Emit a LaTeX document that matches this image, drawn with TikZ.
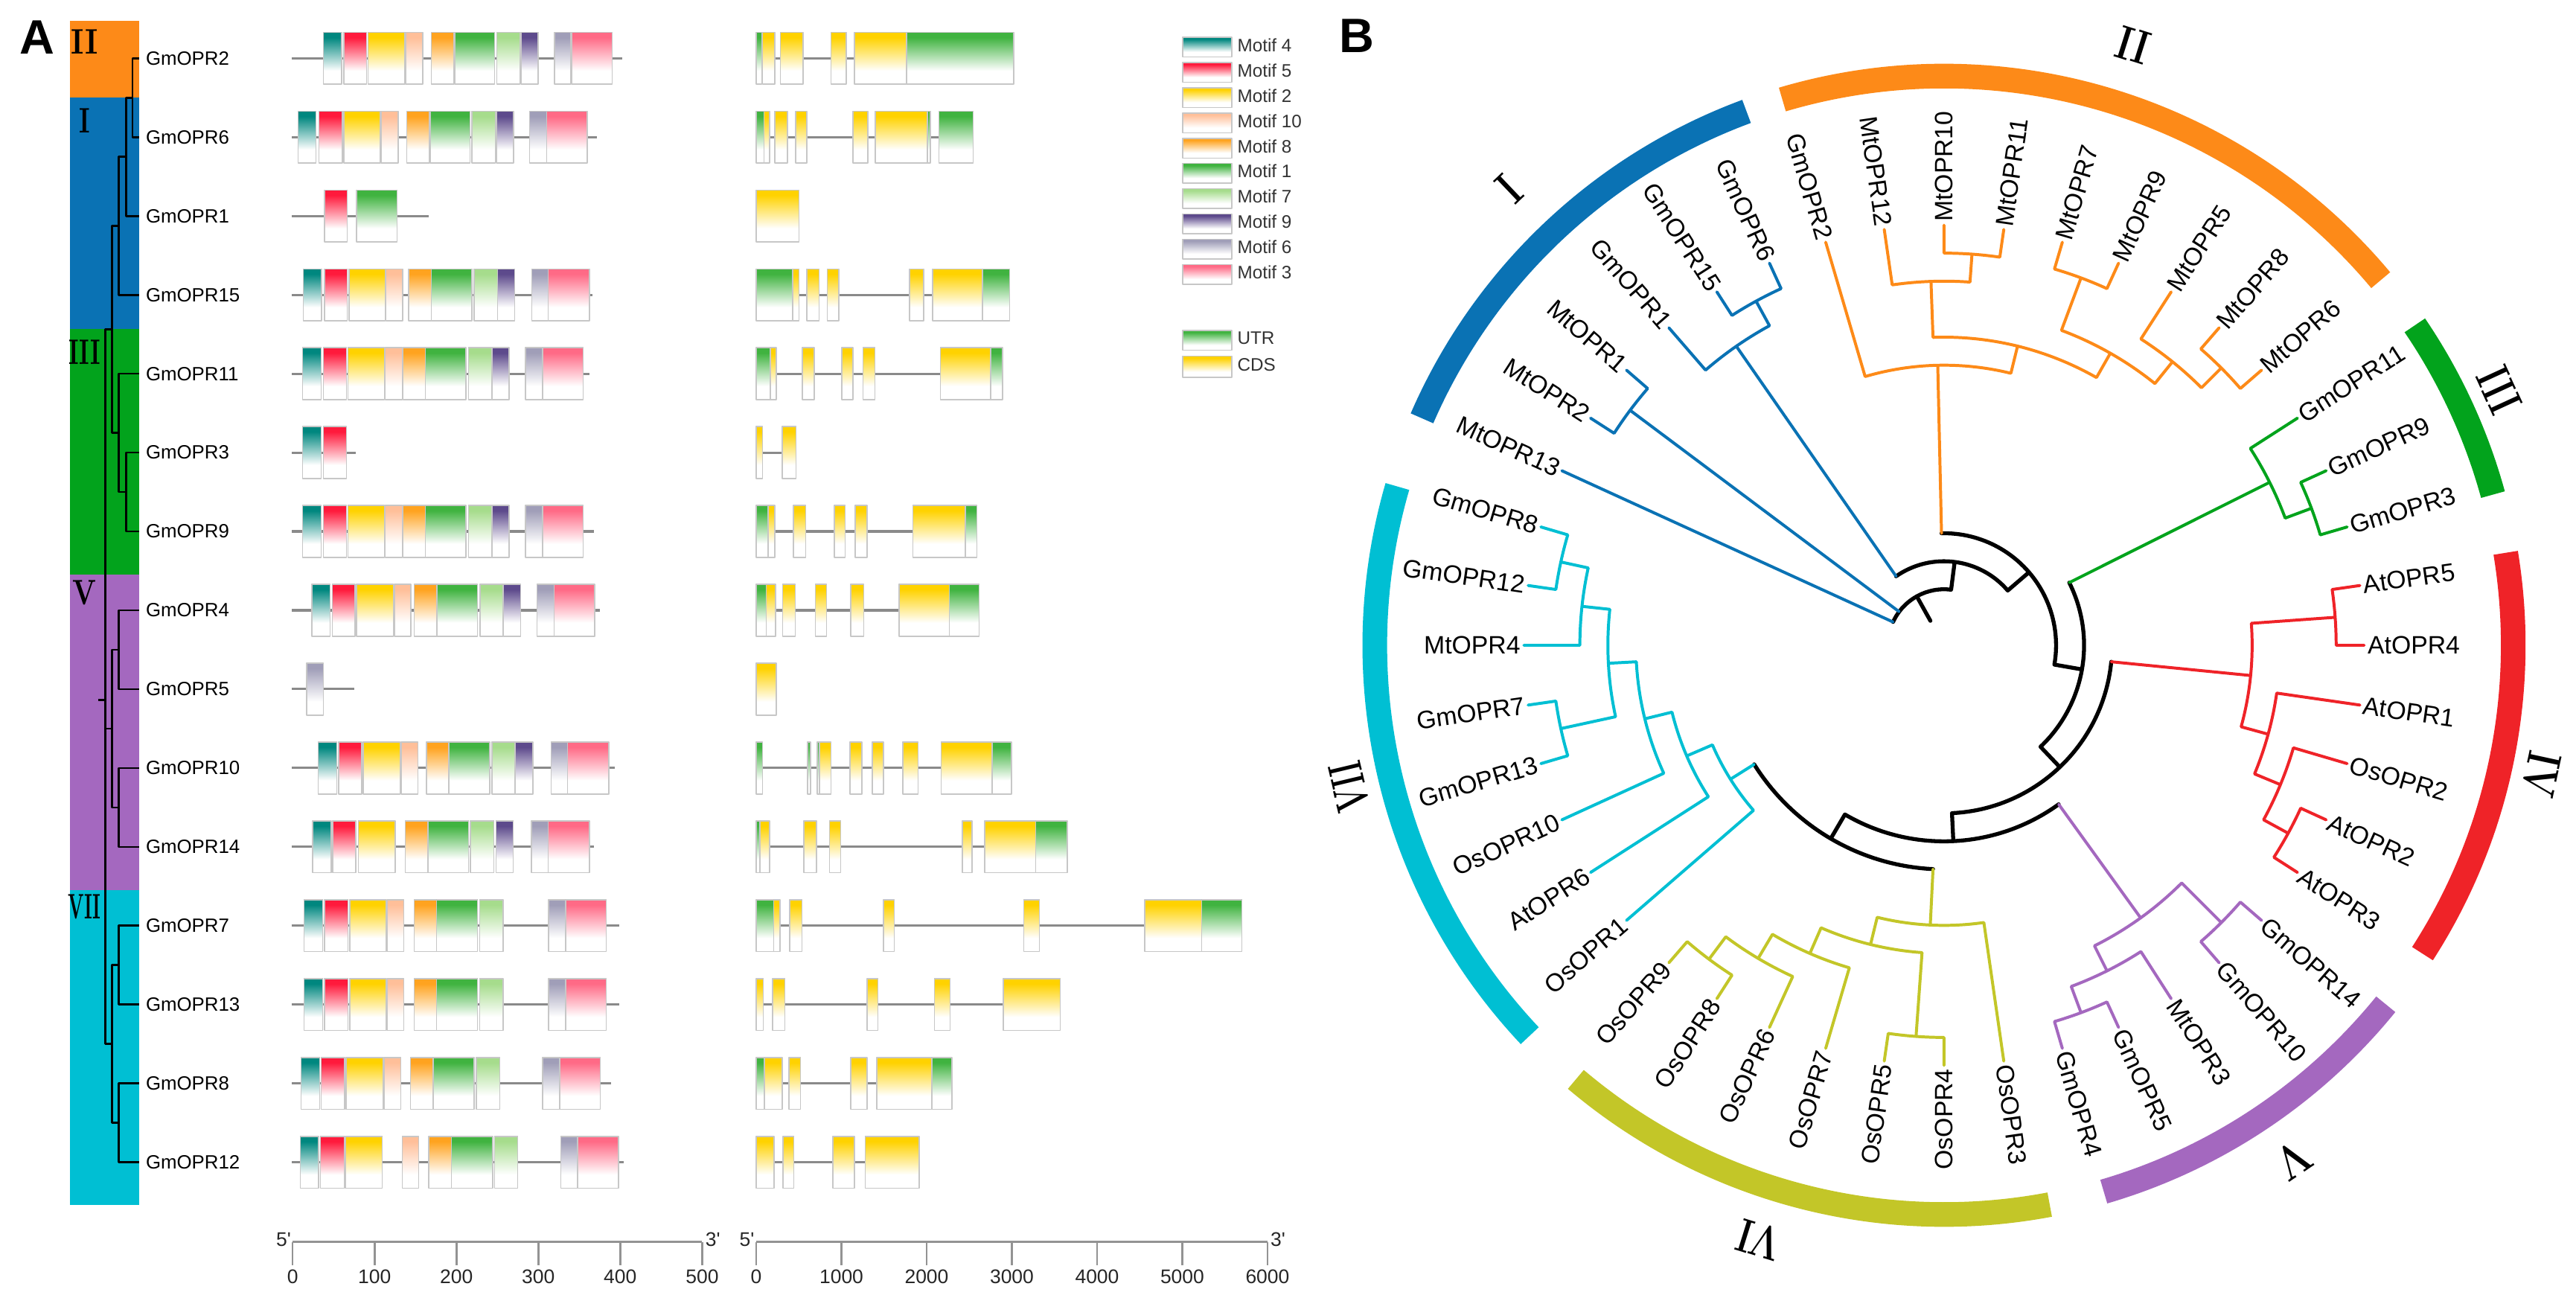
\documentclass[tikz,border=0pt]{standalone}
\usepackage{fontspec}
\newfontfamily\arial{Liberation Sans}
\definecolor{cI}{HTML}{0A72B4}
\definecolor{cII}{HTML}{FD8A18}
\definecolor{cIII}{HTML}{02A31C}
\definecolor{cIV}{HTML}{EF2328}
\definecolor{cV}{HTML}{A468BF}
\definecolor{cVI}{HTML}{C3C628}
\definecolor{cVII}{HTML}{00BFD3}
\definecolor{m4}{HTML}{00877F}
\definecolor{m5}{HTML}{FF1A3C}
\definecolor{m2}{HTML}{FFD200}
\definecolor{m10}{HTML}{FFBF99}
\definecolor{m8}{HTML}{FFA31F}
\definecolor{m1}{HTML}{40B340}
\definecolor{m7}{HTML}{A6DC8C}
\definecolor{m9}{HTML}{5D4A8C}
\definecolor{m6}{HTML}{A09EB8}
\definecolor{m3}{HTML}{FF6A86}
\colorlet{utr}{m1}
\colorlet{cds}{m2}
\definecolor{gline}{HTML}{8A8A8A}
\colorlet{fadecol}{white}
\pgfdeclareverticalshading[fadecol]{fade}{100bp}{color(0bp)=(white); color(38bp)=(white); color(70bp)=(fadecol); color(100bp)=(fadecol)}

\begin{document}
\begin{tikzpicture}[x=0.5pt, y=-0.5pt, line join=round,
  gene/.style={font=\arial\fontsize{5.85}{7}\selectfont, anchor=west, inner sep=0pt},
  leg/.style={font=\arial\fontsize{5.5}{6.5}\selectfont, text=black!80, anchor=west, inner sep=0pt},
  tick/.style={font=\arial\fontsize{6}{7}\selectfont, text=black!85, inner sep=0pt},
  leaf/.style={font=\arial\fontsize{7.65}{9}\selectfont, inner sep=0pt},
  panel/.style={font=\arial\bfseries\fontsize{14.7}{16}\selectfont, inner sep=0pt, anchor=base west},
  romA/.style={font=\bfseries\fontsize{10.8}{12}\selectfont, inner sep=0pt},
  romB/.style={font=\bfseries\fontsize{14.5}{16}\selectfont, inner sep=0pt},
  treeA/.style={line width=0.6pt},
  bb/.style={line width=1.2pt, line cap=round},
  cl/.style={draw=#1, line width=0.9pt, line cap=round},
  ring/.style={draw=#1, line width=7.5pt},
  gl/.style={draw=gline, line width=0.7pt},
  axis/.style={draw=gray!85, line width=0.6pt},
  mot/.style={/utils/exec={\colorlet{fadecol}{#1}}, shading=fade, draw=black!22, line width=0.35pt}]
\def\motifs#1#2#3{
  \draw[gl] (177.8,#1) -- (#2,#1);
  \foreach \a/\b/\c in {#3} {\shadedraw[mot=\c] (\a,#1-15.8) rectangle (\b,#1+15.8);}
}
\def\exons#1#2#3{
  \draw[gl] (460.3,#1) -- (#2,#1);
  \foreach \a/\b/\c in {#3} {\shadedraw[mot=\c] (\a,#1-15.8) rectangle (\b,#1+15.8);}
}
\fill[white] (0,0) rectangle (1568,790);
\useasboundingbox (0,0) rectangle (1568,790);

\node[panel] (pA) at (11.7,33) {A};
\node[panel] (pB) at (815,32) {B};

\fill[cII] (42.4,12.5) rectangle (84.5,59.3);
\fill[cI] (42.4,59.3) rectangle (84.5,200.2);
\fill[cIII] (42.4,200.2) rectangle (84.5,349.7);
\fill[cV] (42.4,349.7) rectangle (84.5,542);
\fill[cVII] (42.4,542) rectangle (84.5,733.7);
\foreach \y/\sx/\txt in {25.5/0.83/II, 73.3/0.7/I, 214.5/0.65/III, 361/0.77/V, 552/0.52/VII}
  \node[romA] (ra-\txt) at (51.5,\y) {\scalebox{\sx}[1]{\txt}};

\draw[treeA] (84.5,35.5) -| (80.6,83.5) -- (84.5,83.5)
  (80.6,59.5) -| (76.7,131.5) -- (84.5,131.5)
  (76.7,95.5) -| (72.3,179.5) -- (84.5,179.5)
  (84.5,227.5) -| (72.3,299.5) -- (76.7,299.5)
  (84.5,275.5) -| (76.7,323.5) -- (84.5,323.5)
  (72.3,137.5) -| (68.1,263.5) -- (72.3,263.5)
  (84.5,371.5) -| (72.3,419.5) -- (84.5,419.5)
  (84.5,467.5) -| (72.3,515.5) -- (84.5,515.5)
  (72.3,395.5) -| (68.1,491.5) -- (72.3,491.5)
  (84.5,563.5) -| (72.3,611.5) -- (84.5,611.5)
  (84.5,659.5) -| (72.3,707.5) -- (84.5,707.5)
  (72.3,587.5) -| (68.1,683.5) -- (72.3,683.5)
  (68.1,200.5) -| (64.2,635.5) -- (68.1,635.5)
  (64.2,443.5) -- (68.1,443.5) (59.8,426) -- (64.2,426);

\foreach \n [count=\i from 0] in {GmOPR2,GmOPR6,GmOPR1,GmOPR15,GmOPR11,GmOPR3,GmOPR9,GmOPR4,GmOPR5,GmOPR10,GmOPR14,GmOPR7,GmOPR13,GmOPR8,GmOPR12}
  \node[gene] (a-\n) at (88.4,35.5+48*\i) {\n};

\motifs{35.5}{378.8}{196.8/208.0/m4, 209.3/223.1/m5, 224.1/246.5/m2, 247.0/257.4/m10, 262.6/276.4/m8, 276.9/301.1/m1, 302.4/316.4/m7, 317.2/327.6/m9, 337.5/347.6/m6, 347.9/372.6/m3}
\motifs{83.5}{363.2}{181.5/192.4/m4, 194.2/208.3/m5, 209.3/231.4/m2, 231.9/242.3/m10, 247.5/261.3/m8, 261.8/286.0/m1, 287.3/301.6/m7, 302.1/312.5/m9, 322.4/332.8/m6, 332.8/357.5/m3}
\motifs{131.5}{261.0}{197.6/211.4/m5, 217.1/241.8/m1}
\motifs{179.5}{360.6}{184.6/195.8/m4, 197.6/211.4/m5, 212.4/234.5/m2, 235.0/245.2/m10, 248.8/262.6/m8, 262.6/287.3/m1, 288.6/302.9/m7, 302.9/313.3/m9, 323.7/333.6/m6, 333.6/358.8/m3}
\motifs{227.5}{358.8}{184.1/195.5/m4, 196.8/210.9/m5, 211.9/234.0/m2, 234.5/244.9/m10, 245.4/259.0/m8, 259.0/283.7/m1, 285.2/299.3/m7, 299.5/309.9/m9, 319.8/330.2/m6, 330.2/354.9/m3}
\motifs{275.5}{216.6}{184.1/195.5/m4, 196.8/210.9/m5}
\motifs{323.5}{361.4}{184.1/195.5/m4, 196.8/210.9/m5, 211.9/234.0/m2, 234.5/244.9/m10, 245.4/259.0/m8, 259.0/283.7/m1, 285.2/299.3/m7, 299.5/309.9/m9, 319.8/330.2/m6, 330.2/354.9/m3}
\motifs{371.5}{365.3}{189.8/201.0/m4, 202.3/216.1/m5, 217.1/239.5/m2, 240.0/250.1/m10, 252.2/266.0/m8, 266.0/290.7/m1, 292.2/306.3/m7, 306.5/316.9/m9, 326.8/337.2/m6, 337.2/361.9/m3}
\motifs{419.5}{215.8}{186.7/196.8/m6}
\motifs{467.5}{374.4}{193.7/204.9/m4, 206.2/220.2/m5, 221.0/243.6/m2, 244.1/254.3/m10, 259.5/273.3/m8, 273.3/298.0/m1, 299.5/313.6/m7, 313.8/324.5/m9, 335.4/345.5/m6, 345.5/370.5/m3}
\motifs{515.5}{361.4}{190.3/201.5/m4, 202.5/216.6/m5, 218.1/240.5/m2, 246.7/260.5/m8, 260.5/285.2/m1, 286.3/300.6/m7, 301.9/312.3/m9, 323.4/333.6/m6, 333.6/358.8/m3}
\motifs{563.5}{377.0}{185.1/196.3/m4, 197.6/211.9/m5, 212.9/235.0/m2, 235.6/245.7/m10, 252.2/265.7/m8, 265.7/290.7/m1, 292.0/306.3/m7, 333.8/344.2/m6, 344.2/368.9/m3}
\motifs{611.5}{377.0}{185.1/196.3/m4, 197.6/211.9/m5, 212.9/235.0/m2, 235.6/245.7/m10, 252.2/265.7/m8, 265.7/290.7/m1, 292.0/306.3/m7, 333.8/344.2/m6, 344.2/368.9/m3}
\motifs{659.5}{371.8}{183.3/194.5/m4, 195.5/209.8/m5, 210.6/233.2/m2, 233.7/243.9/m10, 249.9/263.6/m8, 263.6/288.6/m1, 289.9/304.2/m7, 330.2/340.6/m6, 340.6/365.3/m3}
\motifs{707.5}{379.6}{182.8/194.0/m4, 195.0/209.6/m5, 210.3/232.7/m2, 244.9/254.8/m10, 261.0/274.8/m8, 274.8/299.8/m1, 301.1/315.1/m7, 341.4/351.5/m6, 351.5/376.5/m3}

\exons{35.5}{617.1}{460.3/463.7/utr, 464.2/471.5/cds, 475.1/488.9/cds, 505.8/515.2/cds, 520.1/551.8/cds, 551.8/617.1/utr}
\exons{83.5}{592.4}{460.3/465.0/utr, 465.0/468.4/cds, 471.5/479.3/cds, 484.2/491.0/cds, 519.1/528.2/cds, 532.9/564.6/cds, 564.6/566.4/utr, 571.6/592.4/utr}
\exons{131.5}{486.3}{460.3/486.3/cds}
\exons{179.5}{614.5}{460.3/482.4/utr, 482.4/486.3/cds, 491.0/498.5/cds, 503.5/510.5/cds, 553.6/562.2/cds, 567.7/597.9/cds, 597.9/614.5/utr}
\exons{227.5}{610.3}{460.3/468.9/utr, 468.9/472.5/cds, 488.4/495.7/cds, 512.3/519.3/cds, 525.3/532.6/cds, 572.4/603.1/cds, 603.1/610.3/utr}
\exons{275.5}{484.5}{460.3/464.2/cds, 476.2/484.5/cds}
\exons{323.5}{594.7}{460.3/467.6/utr, 467.6/471.5/cds, 482.9/490.5/cds, 507.9/514.4/cds, 520.6/527.9/cds, 555.7/587.5/cds, 587.5/594.7/utr}
\exons{371.5}{596.0}{460.3/466.5/utr, 466.5/472.0/cds, 476.4/484.0/cds, 496.4/503.2/cds, 517.8/525.8/cds, 547.2/577.8/cds, 577.8/596.0/utr}
\exons{419.5}{472.5}{460.3/472.5/cds}
\exons{467.5}{615.8}{460.3/464.2/utr, 491.5/493.3/utr, 497.5/498.8/utr, 498.8/505.8/cds, 517.3/524.5/cds, 531.0/537.8/cds, 549.5/558.9/cds, 572.9/603.8/cds, 603.8/615.8/utr}
\exons{515.5}{650.1}{460.3/462.6/utr, 462.6/468.4/cds, 489.4/497.0/cds, 505.0/511.8/cds, 585.9/591.6/cds, 599.4/630.4/cds, 630.4/649.6/utr}
\exons{563.5}{756.0}{460.3/471.0/utr, 471.0/474.9/cds, 480.6/488.1/cds, 537.8/544.3/cds, 623.1/632.7/cds, 696.9/731.5/cds, 731.5/756.0/utr}
\exons{611.5}{645.4}{460.3/464.5/cds, 470.2/477.7/cds, 527.9/534.4/cds, 568.7/578.4/cds, 610.6/645.4/cds}
\exons{659.5}{579.4}{460.3/465.2/utr, 465.2/476.2/cds, 480.3/487.3/cds, 517.8/527.7/cds, 533.6/567.2/cds, 567.2/579.4/utr}
\exons{707.5}{559.6}{460.3/471.2/cds, 476.7/483.2/cds, 506.9/520.1/cds, 526.6/559.6/cds}

\foreach \c/\txt [count=\i from 0] in {m4/Motif 4, m5/Motif 5, m2/Motif 2, m10/Motif 10, m8/Motif 8, m1/Motif 1, m7/Motif 7, m9/Motif 9, m6/Motif 6, m3/Motif 3} {
  \shadedraw[mot=\c] (720,22.7+15.37*\i) rectangle (749.7,34.7+15.37*\i);
  \node[leg] (l-\c) at (752.8,27.5+15.37*\i) {\txt};
}
\shadedraw[mot=utr] (720,201.1) rectangle (749.7,213.2);
\node[leg] (l-utr) at (752.8,206) {UTR};
\shadedraw[mot=cds] (720,216.7) rectangle (749.7,229.7);
\node[leg] (l-cds) at (752.8,222) {CDS};

\draw[axis] (178.1,756) -- (427.4,756);
\foreach \v [count=\i from 0] in {0,100,200,300,400,500} {
  \draw[axis] (178.1+49.86*\i,756) -- ++(0,14);
  \node[tick, anchor=north] (ta-\i) at (178.1+49.86*\i,772.5) {\v};
}
\node[tick, anchor=south east] (ta-5p) at (177.5,759) {5\textquotesingle};
\node[tick, anchor=south west] (ta-3p) at (429,759) {3\textquotesingle};
\draw[axis] (460.3,756) -- (771.5,756);
\foreach \v [count=\i from 0] in {0,1000,2000,3000,4000,5000,6000} {
  \draw[axis] (460.3+51.87*\i,756) -- ++(0,14);
  \node[tick, anchor=north] (tb-\i) at (460.3+51.87*\i,772.5) {\v};
}
\node[tick, anchor=south east] (tb-5p) at (459.5,759) {5\textquotesingle};
\node[tick, anchor=south west] (tb-3p) at (773,759) {3\textquotesingle};

\begin{scope}[shift={(1183.3,392.8)}, y=0.5pt]
\def\rs{17.05}
\def\br#1#2#3{(#1:{#2*\rs}) -- (#1:{#3*\rs})}
\def\ar#1#2#3{(#2:{#1*\rs}) arc[start angle=#2, end angle=#3, radius={#1*\rs}]}
\def\band#1#2{(#1:346.5) arc[start angle=#1, end angle=#2, radius=346.5]}

\draw[ring=cI] \band{110.3}{156.5};
\draw[ring=cII] \band{39.9}{106.5};
\draw[ring=cIII] \band{15.35}{34.2};
\draw[ring=cIV] \band{-32.8}{9.35};
\draw[ring=cV] \band{-73.7}{-39.1};
\draw[ring=cVI] \band{-130.3}{-79.3};
\draw[ring=cVII] \band{-196.2}{-136.7};

\foreach \a/\rr/\sx/\txt in {133.6/384/0.75/I, 72.5/383/0.78/II, 24.7/372/0.72/III, -12.2/372/0.75/IV, -55.9/378.6/0.8/V, -107.3/379/0.72/VI, 193.4/372/0.6/VII}
  \node[romB, rotate=\a-90] (rb-\txt) at (\a:\rr) {\scalebox{\sx}[1]{\txt}};

\draw[bb] \ar{2}{155.45}{82.72} \br{119.09}{2}{1} \br{82.72}{2}{3}
  \ar{3}{124.78}{40.67} \br{40.67}{3}{4}
  \ar{4}{91.28}{-9.93} \br{-9.93}{4}{5}
  \ar{5}{26.59}{-46.45} \br{-46.45}{5}{6}
  \ar{6}{-5.63}{-87.28} \br{-87.28}{6}{7}
  \ar{7}{-54.2}{-120.36} \br{-120.36}{7}{8}
  \ar{8}{-92.81}{-147.91};

\draw[cl=cI] \br{155.45}{2}{15} \br{143.18}{2}{14} \ar{14}{139.09}{147.27} \br{139.09}{14}{15} \br{147.27}{14}{15}
  \br{124.78}{3}{13} \ar{13}{118.64}{130.91} \br{130.91}{13}{15} \br{118.64}{13}{14}
  \ar{14}{114.55}{122.73} \br{114.55}{14}{15} \br{122.73}{14}{15};

\draw[cl=cII] \br{91.28}{4}{10} \ar{10}{106.36}{76.19} \br{106.36}{10}{15} \br{76.19}{10}{11}
  \ar{11}{92.05}{60.34} \br{92.05}{11}{13} \ar{13}{98.18}{85.91} \br{98.18}{13}{15} \br{85.91}{13}{14}
  \ar{14}{90}{81.82} \br{90}{14}{15} \br{81.82}{14}{15}
  \br{60.34}{11}{12} \ar{12}{69.55}{51.14} \br{69.55}{12}{14} \ar{14}{73.64}{65.45} \br{73.64}{14}{15} \br{65.45}{14}{15}
  \br{51.14}{12}{13} \ar{13}{57.27}{45} \br{57.27}{13}{15} \br{45}{13}{14}
  \ar{14}{49.09}{40.91} \br{49.09}{14}{15} \br{40.91}{14}{15};

\draw[cl=cIII] \br{26.59}{5}{13} \ar{13}{32.73}{20.45} \br{32.73}{13}{15} \br{20.45}{13}{14}
  \ar{14}{24.55}{16.36} \br{24.55}{14}{15} \br{16.36}{14}{15};

\draw[cl=cIV] \br{-5.63}{6}{11} \ar{11}{4.09}{-15.34} \br{4.09}{11}{14} \ar{14}{8.18}{0} \br{8.18}{14}{15} \br{0}{14}{15}
  \br{-15.34}{11}{12} \ar{12}{-8.18}{-22.5} \br{-8.18}{12}{15} \br{-22.5}{12}{13}
  \ar{13}{-16.36}{-28.64} \br{-16.36}{13}{15} \br{-28.64}{13}{14}
  \ar{14}{-24.55}{-32.73} \br{-24.55}{14}{15} \br{-32.73}{14}{15};

\draw[cl=cV] \br{-54.2}{7}{12} \ar{12}{-45}{-63.41} \br{-45}{12}{14} \ar{14}{-40.91}{-49.09} \br{-40.91}{14}{15} \br{-49.09}{14}{15}
  \br{-63.41}{12}{13} \ar{13}{-57.27}{-69.55} \br{-57.27}{13}{15} \br{-69.55}{13}{14}
  \ar{14}{-65.45}{-73.64} \br{-65.45}{14}{15} \br{-73.64}{14}{15};

\draw[cl=cVI] \br{-92.81}{8}{10} \ar{10}{-81.82}{-103.8} \br{-81.82}{10}{15} \br{-103.8}{10}{11}
  \ar{11}{-94.09}{-113.52} \br{-94.09}{11}{14} \ar{14}{-90}{-98.18} \br{-90}{14}{15} \br{-98.18}{14}{15}
  \br{-113.52}{11}{12} \ar{12}{-106.36}{-120.69} \br{-106.36}{12}{15} \br{-120.69}{12}{13}
  \ar{13}{-114.55}{-126.82} \br{-114.55}{13}{15} \br{-126.82}{13}{14}
  \ar{14}{-122.73}{-130.91} \br{-122.73}{14}{15} \br{-130.91}{14}{15};

\draw[cl=cVII] \br{-147.91}{8}{9} \ar{9}{-139.09}{-156.73} \br{-139.09}{9}{15} \br{-156.73}{9}{10}
  \ar{10}{-147.27}{-166.19} \br{-147.27}{10}{15} \br{-166.19}{10}{11}
  \ar{11}{-155.45}{-176.93} \br{-155.45}{11}{15} \br{-176.93}{11}{12}
  \ar{12}{-167.73}{-186.14} \br{-167.73}{12}{14} \ar{14}{-163.64}{-171.82} \br{-163.64}{14}{15} \br{-171.82}{14}{15}
  \br{-186.14}{12}{13} \ar{13}{-180}{-192.27} \br{-180}{13}{15} \br{-192.27}{13}{14}
  \ar{14}{-188.18}{-196.36} \br{-188.18}{14}{15} \br{-196.36}{14}{15};

\foreach \n [count=\k from 8] in {MtOPR10,MtOPR11,MtOPR7,MtOPR9,MtOPR5,MtOPR8,MtOPR6,GmOPR11,GmOPR9,GmOPR3,AtOPR5,AtOPR4,AtOPR1,OsOPR2,AtOPR2,AtOPR3,GmOPR14,GmOPR10,MtOPR3,GmOPR5,GmOPR4,OsOPR3}
  \node[leaf, anchor=west, rotate=155.4545-8.1818*\k] (b-\n) at ({155.4545-8.1818*\k}:257.5) {\n};
\foreach \n [count=\k from 0] in {MtOPR13,MtOPR2,MtOPR1,GmOPR1,GmOPR15,GmOPR6,GmOPR2,MtOPR12}
  \node[leaf, anchor=east, rotate=155.4545-8.1818*\k-180] (b-\n) at ({155.4545-8.1818*\k}:257.5) {\n};
\foreach \n [count=\k from 30] in {OsOPR4,OsOPR5,OsOPR7,OsOPR6,OsOPR8,OsOPR9,OsOPR1,AtOPR6,OsOPR10,GmOPR13,GmOPR7,MtOPR4,GmOPR12,GmOPR8}
  \node[leaf, anchor=east, rotate=155.4545-8.1818*\k+180] (b-\n) at ({155.4545-8.1818*\k}:257.5) {\n};
\end{scope}
\end{tikzpicture}
\end{document}
